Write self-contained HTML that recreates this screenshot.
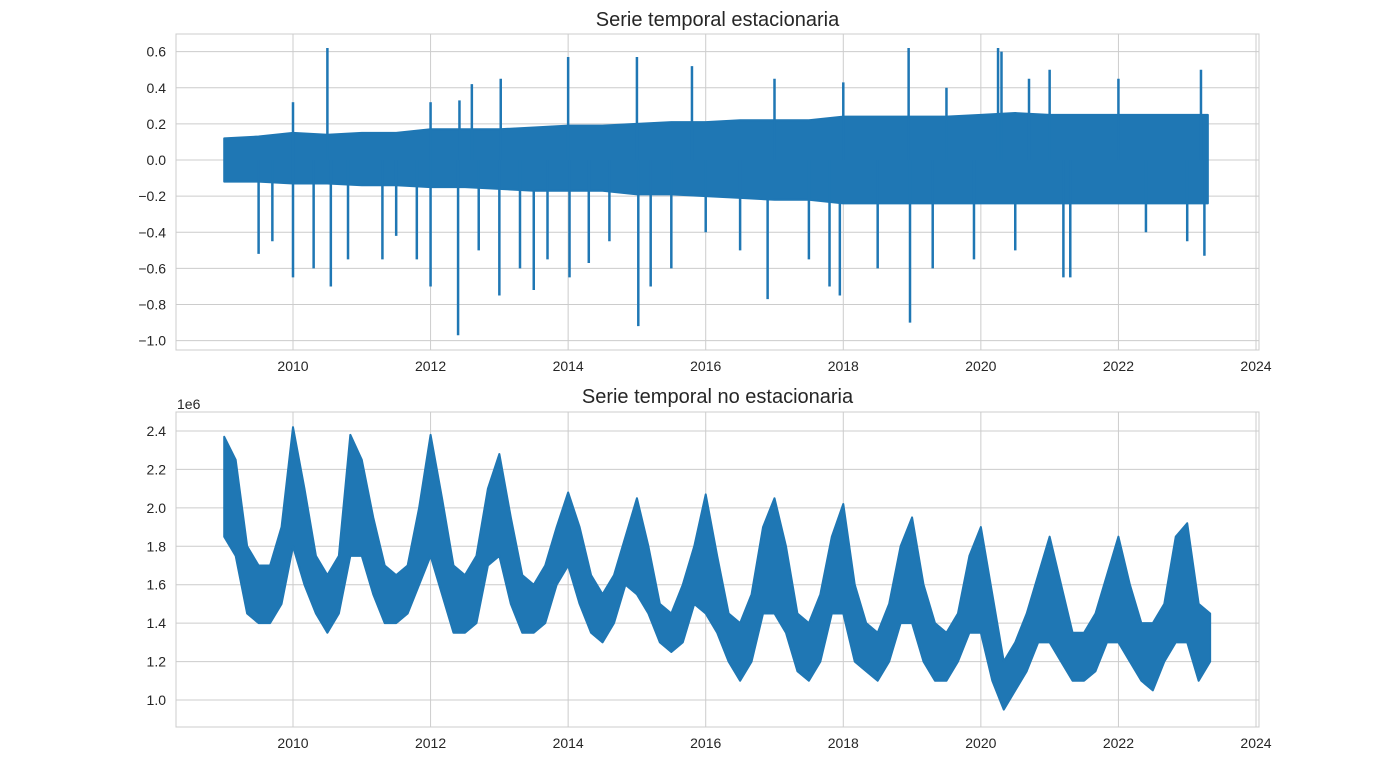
<!DOCTYPE html>
<html><head><meta charset="utf-8"><style>
body{margin:0;background:#fff;}
svg text{font-family:"Liberation Sans",sans-serif;fill:#262626;}
</style></head><body>
<svg width="1400" height="769" xmlns="http://www.w3.org/2000/svg">
<g id="top"></g>
<g id="bot"></g>
</svg>
<script>
// Top series: half-year envelope + spikes
const topTimes = [2009,2009.5,2010,2010.5,2011,2011.5,2012,2012.5,2013,2013.5,2014,2014.5,2015,2015.5,2016,2016.5,2017,2017.5,2018,2018.5,2019,2019.5,2020,2020.5,2021,2021.5,2022,2022.5,2023,2023.3];
const topUpper = [0.12,0.13,0.15,0.14,0.15,0.15,0.17,0.17,0.17,0.18,0.19,0.19,0.2,0.21,0.21,0.22,0.22,0.22,0.24,0.24,0.24,0.24,0.25,0.26,0.25,0.25,0.25,0.25,0.25,0.25];
const topLower = [-0.12,-0.12,-0.13,-0.13,-0.14,-0.14,-0.15,-0.15,-0.16,-0.17,-0.17,-0.17,-0.19,-0.19,-0.2,-0.21,-0.22,-0.22,-0.24,-0.24,-0.24,-0.24,-0.24,-0.24,-0.24,-0.24,-0.24,-0.24,-0.24,-0.24];
const spikeTimes = [2009.5,2009.7,2010,2010,2010.3,2010.5,2010.55,2010.8,2011.3,2011.5,2011.8,2012,2012,2012.4,2012.42,2012.6,2012.7,2013,2013.02,2013.3,2013.5,2013.7,2014,2014.02,2014.3,2014.6,2015,2015.02,2015.2,2015.5,2015.8,2016,2016.5,2016.9,2017,2017.5,2017.8,2017.95,2018,2018.5,2018.95,2018.97,2019.3,2019.5,2019.9,2020.25,2020.3,2020.5,2020.7,2021.2,2021.3,2021,2022,2022.4,2023,2023.2,2023.25];
const spikeValues = [-0.52,-0.45,-0.65,0.32,-0.6,0.62,-0.7,-0.55,-0.55,-0.42,-0.55,-0.7,0.32,-0.97,0.33,0.42,-0.5,-0.75,0.45,-0.6,-0.72,-0.55,0.57,-0.65,-0.57,-0.45,0.57,-0.92,-0.7,-0.6,0.52,-0.4,-0.5,-0.77,0.45,-0.55,-0.7,-0.75,0.43,-0.6,0.62,-0.9,-0.6,0.4,-0.55,0.62,0.6,-0.5,0.45,-0.65,-0.65,0.5,0.45,-0.4,-0.45,0.5,-0.53];
const topYTicks = [0.6,0.4,0.2,0.0,-0.2,-0.4,-0.6,-0.8,-1.0];
const xTicks = [2010,2012,2014,2016,2018,2020,2022,2024];
// Bottom series: bi-monthly envelope (millions)
const botTimes = [];
for (let y=2009;y<=2023;y++) for (let k=0;k<6;k++){ const t=y+k/6; if(t<=2023.34) botTimes.push(t); }
const botUpper = [2.37,2.25,1.8,1.7,1.7,1.9, 2.42,2.1,1.75,1.65,1.75,2.38, 2.25,1.95,1.7,1.65,1.7,2.0, 2.38,2.05,1.7,1.65,1.75,2.1, 2.28,1.95,1.65,1.6,1.7,1.9, 2.08,1.9,1.65,1.55,1.65,1.85, 2.05,1.8,1.5,1.45,1.6,1.8, 2.07,1.75,1.45,1.4,1.55,1.9, 2.05,1.8,1.45,1.4,1.55,1.85, 2.02,1.6,1.4,1.35,1.5,1.8, 1.95,1.6,1.4,1.35,1.45,1.75, 1.9,1.55,1.2,1.3,1.45,1.65, 1.85,1.6,1.35,1.35,1.45,1.65, 1.85,1.6,1.4,1.4,1.5,1.85, 1.92,1.5,1.45];
const botLower = [1.85,1.75,1.45,1.4,1.4,1.5, 1.8,1.6,1.45,1.35,1.45,1.75, 1.75,1.55,1.4,1.4,1.45,1.6, 1.75,1.55,1.35,1.35,1.4,1.7, 1.75,1.5,1.35,1.35,1.4,1.6, 1.7,1.5,1.35,1.3,1.4,1.6, 1.55,1.45,1.3,1.25,1.3,1.5, 1.45,1.35,1.2,1.1,1.2,1.45, 1.45,1.35,1.15,1.1,1.2,1.45, 1.45,1.2,1.15,1.1,1.2,1.4, 1.4,1.2,1.1,1.1,1.2,1.35, 1.35,1.1,0.95,1.05,1.15,1.3, 1.3,1.2,1.1,1.1,1.15,1.3, 1.3,1.2,1.1,1.05,1.2,1.3, 1.3,1.1,1.2];
const botYTicks = [2.4,2.2,2.0,1.8,1.6,1.4,1.2,1.0];

const NS='http://www.w3.org/2000/svg';
function mk(tag,attrs,parent){const e=document.createElementNS(NS,tag);for(const k in attrs)e.setAttribute(k,attrs[k]);parent.appendChild(e);return e;}
const xScale = t => 293 + (t-2010)*(1256-293)/14;

function panel(g, top, bottom, yScale, yTicks, fmt, title, titleY){
  const L=176,R=1259;
  xTicks.forEach(t=>{const l=mk('line',{x1:xScale(t),x2:xScale(t),y1:top,y2:bottom,stroke:'#cccccc','stroke-width':1},g);
    
    const tx=mk('text',{x:xScale(t),y:bottom+21,'text-anchor':'middle','font-size':14},g);tx.textContent=t;
    });
  yTicks.forEach(v=>{const y=yScale(v);const l=mk('line',{x1:L,x2:R,y1:y,y2:y,stroke:'#cccccc','stroke-width':1},g);
    
    const tx=mk('text',{x:L-10,y:y+5,'text-anchor':'end','font-size':14},g);tx.textContent=fmt(v);
    });
  const r=mk('rect',{x:L,y:top,width:R-L,height:bottom-top,fill:'none',stroke:'#cccccc','stroke-width':1},g);
  
  const tt=mk('text',{x:(L+R)/2,y:titleY,'text-anchor':'middle','font-size':20},g);tt.textContent=title;
  
}
function band(g, times, up, lo, yScale){
  let pts=[];
  times.forEach((t,i)=>pts.push(xScale(t)+','+yScale(up[i])));
  for(let i=times.length-1;i>=0;i--) pts.push(xScale(times[i])+','+yScale(lo[i]));
  const p=mk('polygon',{points:pts.join(' '),fill:'#1f77b4',stroke:'#1f77b4','stroke-width':2,'stroke-linejoin':'round'},g);
  
}
// top
const gT=document.getElementById('top');
const yT=v=>160-(v)*(341-52)/1.6;
panel(gT,34,350,yT,topYTicks,v=>v.toFixed(1).replace('-','\u2212'),'Serie temporal estacionaria',26);
band(gT,topTimes,topUpper,topLower,yT);
spikeTimes.forEach((t,i)=>{const l=mk('line',{x1:xScale(t),x2:xScale(t),y1:yT(0),y2:yT(spikeValues[i]),stroke:'#1f77b4','stroke-width':2.5},gT);
  });
// bottom
const gB=document.getElementById('bot');
const yB=v=>700-(v-1.0)*(700-431)/1.4;
panel(gB,412,727,yB,botYTicks,v=>v.toFixed(1),'Serie temporal no estacionaria',403);
band(gB,botTimes,botUpper,botLower,yB);
const off=mk('text',{x:177,y:409,'font-size':14},gB);off.textContent='1e6';

</script>
</body></html>
